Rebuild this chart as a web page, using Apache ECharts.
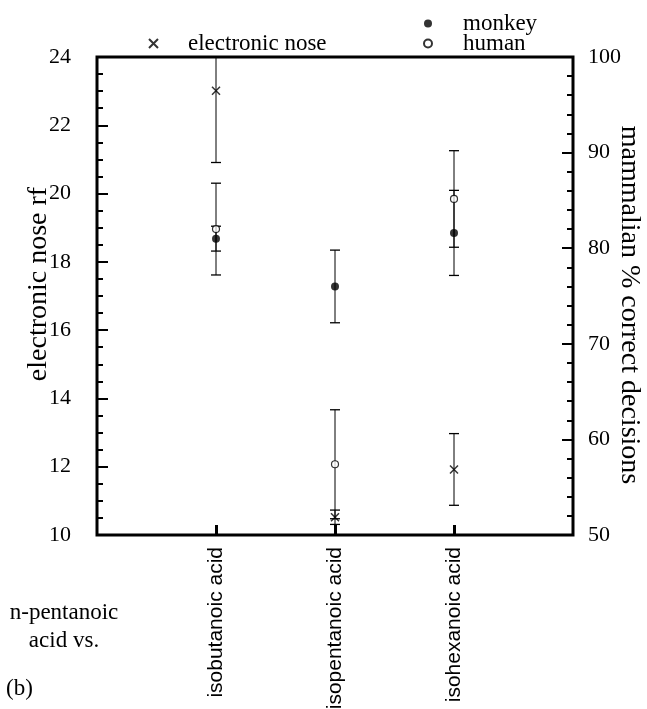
<!DOCTYPE html>
<html>
<head>
<meta charset="utf-8">
<script src="https://cdn.jsdelivr.net/npm/echarts@6/dist/echarts.min.js"></script>
<style>
html, body { margin: 0; padding: 0; background: #fff; }
#chart { width: 647px; height: 709px; }
</style>
</head>
<body>
<div id="chart"></div>
<script>
// values
var categories = ['isobutanoic acid', 'isopentanoic acid', 'isohexanoic acid'];
var noseValues = [23.01, 10.52, 11.92];
var noseErrors = [2.1, 0.21, 1.05];
var monkeyValues = [81.0, 76.0, 81.6];
var monkeyErrors = [1.3, 3.8, 4.45];
var humanValues = [82.0, 57.4, 85.15];
var humanErrors = [4.8, 5.7, 5.05];

var serif = 'Liberation Serif';
var sans = 'Liberation Sans';

// empty slot at each end so the three groups sit at 1/4, 2/4, 3/4
var slots = [''].concat(categories).concat(['']);

function points(values) {
    return values.map(function (v, i) { return [i + 1, v]; });
}

function errorBars(name, yAxisIndex, values, errors) {
    return {
        type: 'custom',
        name: name,
        yAxisIndex: yAxisIndex,
        z: 1,
        silent: true,
        renderItem: function (params, api) {
            var x = api.value(0);
            var lo = api.coord([x, api.value(1)]);
            var hi = api.coord([x, api.value(2)]);
            var top = params.coordSys.y;
            var bottom = params.coordSys.y + params.coordSys.height;
            var y1 = Math.min(lo[1], bottom);
            var y2 = Math.max(hi[1], top);
            var cx = lo[0];
            var children = [{
                type: 'line',
                shape: { x1: cx, y1: y1, x2: cx, y2: y2 },
                style: { stroke: '#000', lineWidth: 1 }
            }];
            if (lo[1] <= bottom) {
                children.push({ type: 'line', shape: { x1: cx - 5, y1: y1, x2: cx + 5, y2: y1 }, style: { stroke: '#000', lineWidth: 1.3 } });
            }
            if (hi[1] >= top) {
                children.push({ type: 'line', shape: { x1: cx - 5, y1: y2, x2: cx + 5, y2: y2 }, style: { stroke: '#000', lineWidth: 1.3 } });
            }
            return { type: 'group', children: children };
        },
        data: values.map(function (v, i) { return [i + 1, v - errors[i], v + errors[i]]; })
    };
}

var chart = echarts.init(document.getElementById('chart'));
chart.setOption({
    backgroundColor: '#fff',
    animation: false,
    grid: {
        left: 97, right: 74, top: 57, bottom: 174,
        outerBoundsMode: 'none',
        show: true, borderColor: '#000', borderWidth: 3
    },
    legend: [{
        data: ['electronic nose'],
        left: 143, top: 27,
        itemWidth: 9, itemHeight: 9,
        selectedMode: false,
        textStyle: { fontFamily: serif, fontSize: 23, color: '#000', padding: [0, 0, 0, 25] }
    }, {
        data: ['monkey', 'human'],
        orient: 'vertical',
        left: 418, top: 7,
        itemWidth: 8, itemHeight: 8, itemGap: -3,
        selectedMode: false,
        textStyle: { fontFamily: serif, fontSize: 23, color: '#000', padding: [0, 0, 0, 26] }
    }],
    xAxis: {
        type: 'category',
        data: slots,
        boundaryGap: false,
        axisLine: { show: false },
        axisTick: {
            show: true, inside: true, length: 10,
            interval: function (index) { return index > 0 && index < slots.length - 1; },
            lineStyle: { color: '#000', width: 3 }
        },
        axisLabel: {
            rotate: 90, margin: 12, interval: 0,
            fontFamily: sans, fontSize: 21, color: '#000'
        },
        splitLine: { show: false }
    },
    yAxis: [{
        type: 'value',
        min: 10, max: 24, interval: 2,
        axisLine: { show: false },
        axisTick: { show: true, inside: true, length: 11, lineStyle: { color: '#000', width: 2 } },
        minorTick: { show: true, splitNumber: 4, length: 6, lineStyle: { color: '#000', width: 2 } },
        axisLabel: { fontFamily: serif, fontSize: 22, color: '#000', margin: 26 },
        splitLine: { show: false }
    }, {
        type: 'value',
        position: 'right',
        min: 50, max: 100, interval: 10,
        axisLine: { show: false },
        axisTick: { show: true, inside: true, length: 11, lineStyle: { color: '#000', width: 2 } },
        minorTick: { show: true, splitNumber: 5, length: 6, lineStyle: { color: '#000', width: 2 } },
        axisLabel: { fontFamily: serif, fontSize: 22, color: '#000', margin: 15 },
        splitLine: { show: false }
    }],
    graphic: [{
        type: 'text', x: 39, y: 284, rotation: Math.PI / 2,
        style: { text: 'electronic nose rf', font: '28px "Liberation Serif"', fill: '#000', textAlign: 'center', textVerticalAlign: 'middle' }
    }, {
        type: 'text', x: 629, y: 305, rotation: -Math.PI / 2,
        style: { text: 'mammalian % correct decisions', font: '28px "Liberation Serif"', fill: '#000', textAlign: 'center', textVerticalAlign: 'middle' }
    }, {
        type: 'text', x: 64, y: 627,
        style: { text: 'n-pentanoic\nacid vs.', font: '23px "Liberation Serif"', fill: '#000', textAlign: 'center', textVerticalAlign: 'middle', lineHeight: 28 }
    }, {
        type: 'text', x: 6, y: 689,
        style: { text: '(b)', font: '23px "Liberation Serif"', fill: '#000', textAlign: 'left', textVerticalAlign: 'middle' }
    }],
    series: [
        errorBars('nose err', 0, noseValues, noseErrors),
        errorBars('monkey err', 1, monkeyValues, monkeyErrors),
        errorBars('human err', 1, humanValues, humanErrors),
        {
            name: 'electronic nose', type: 'scatter', yAxisIndex: 0, z: 3,
            symbol: 'path://M0,0L10,10M10,0L0,10', symbolSize: 8,
            itemStyle: { color: '#000', borderColor: '#000', borderWidth: 1.5 },
            data: points(noseValues)
        }, {
            name: 'monkey', type: 'scatter', yAxisIndex: 1, z: 3,
            symbol: 'circle', symbolSize: 8,
            itemStyle: { color: '#000' },
            data: points(monkeyValues)
        }, {
            name: 'human', type: 'scatter', yAxisIndex: 1, z: 4,
            symbol: 'circle', symbolSize: 7,
            itemStyle: { color: '#fff', borderColor: '#000', borderWidth: 1.2 },
            data: points(humanValues)
        }
    ]
});
</script>
</body>
</html>
